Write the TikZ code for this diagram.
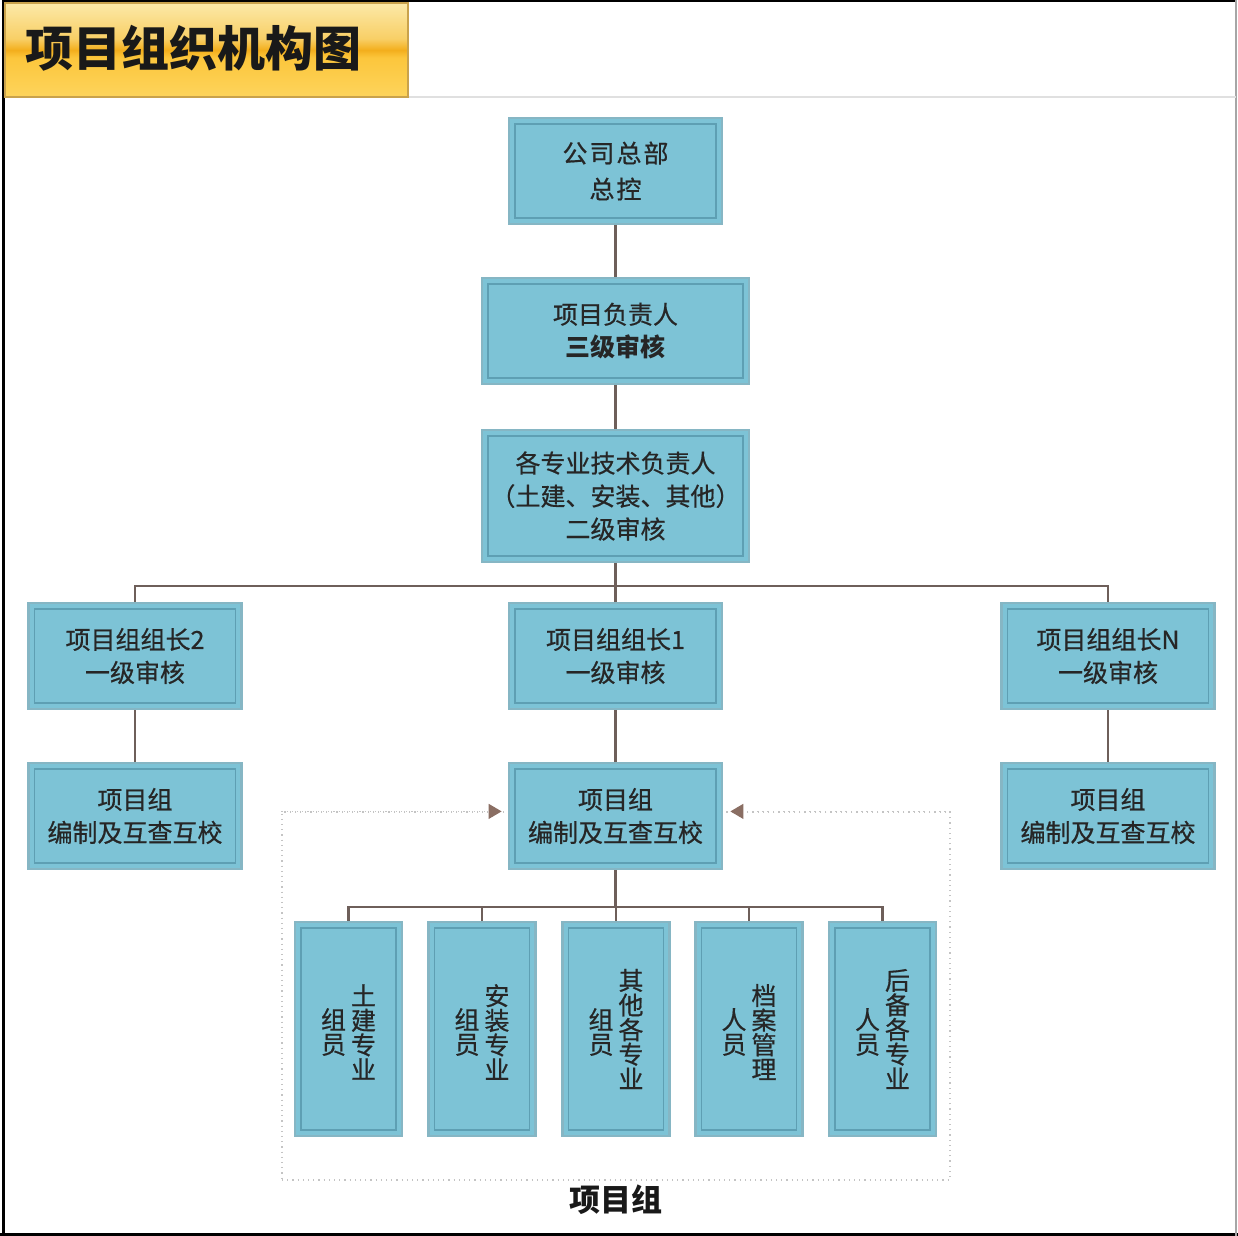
\documentclass[tikz,border=0pt]{standalone}
\usepackage{fontspec}
\newfontfamily\cjk{Noto Sans CJK SC}
\newfontfamily\cjkm{Noto Sans CJK SC}[FakeBold=0.6]
\usetikzlibrary{arrows.meta,calc}
\definecolor{boxfill}{HTML}{7DC3D6}
\definecolor{boxedge}{HTML}{86B6C4}
\definecolor{boxinner}{HTML}{5E9FB3}
\definecolor{connc}{HTML}{6E5F5A}
\definecolor{arrowc}{HTML}{8A6E63}
\definecolor{dotc}{HTML}{C4C4C4}
\definecolor{tA}{HTML}{FDD45C}
\definecolor{tB}{HTML}{FCC63C}
\definecolor{tC}{HTML}{F3AE1C}
\definecolor{tD}{HTML}{F8CF66}
\definecolor{tE}{HTML}{FCE9A8}
\definecolor{titleedge}{HTML}{C9A24C}
\pgfdeclareverticalshading{titleshade}{100bp}{color(0bp)=(tA); color(25bp)=(tA); color(46bp)=(tB); color(50bp)=(tC); color(56bp)=(tD); color(75bp)=(tE); color(100bp)=(tE)}
\tikzset{
  orgbox/.style={rectangle, fill=boxfill, draw=boxedge, line width=1.4pt,
    align=center, inner sep=0pt, text=black!85,
    font=\cjkm\fontsize{12.5}{16.5}\selectfont,
    path picture={\draw[boxinner, line width=0.6pt]
      ([shift={(3pt,-3pt)}]path picture bounding box.north west) rectangle
      ([shift={(-3pt,3pt)}]path picture bounding box.south east);}},
  stdbox/.style={orgbox, minimum width=106.5pt, minimum height=53pt},
  membox/.style={orgbox, minimum width=53.5pt, minimum height=107pt},
  vtext/.style={align=center, inner sep=0pt, text=black!85,
    font=\cjkm\fontsize{12.5}{12.3}\selectfont},
  conn/.style={draw=connc, line width=1.2pt},
  dotline/.style={draw=dotc, line width=0.6pt, dotted},
  tip/.style={-{Triangle[length=6.5pt, width=7.5pt, color=arrowc, fill=arrowc]}}
}
\begin{document}
\begin{tikzpicture}[x=0.5pt, y=-0.5pt]
\useasboundingbox (0,0) rectangle (1238,1236);
\fill[white] (0,0) rectangle (1238,1236);
% frame
\draw[black, line width=1.5pt] (2,1) -- (1236,1) ;
\draw[black, line width=1.5pt] (3,0) -- (3,1236);
\draw[black, line width=1.5pt] (0,1234) -- (1238,1234);
\draw[black!35, line width=1pt] (1236,0) -- (1236,1236);
% header
\draw[black!12, line width=1pt] (408,97) -- (1236,97);
\node[rectangle, shading=titleshade, draw=titleedge, line width=0.8pt,
  minimum width=201.5pt, minimum height=47pt, inner sep=0pt] (title) at (206.5,50) {};
\node[anchor=west, inner sep=0pt, font=\cjk\bfseries\fontsize{24}{28}\selectfont, text=black!90] (titletext) at (25,48) {项目组织机构图};

% dotted group frame
\node[rectangle, dotline, minimum width=334pt, minimum height=184pt, inner sep=0pt] (grp) at (616,996) {};

% nodes
\node[stdbox, font=\cjkm\fontsize{12.5}{18}\selectfont] (hq) at (615.5,171) {公\kern1pt 司\kern1pt 总\kern1pt 部\\总\kern1pt 控};
\node[stdbox, minimum width=133.5pt] (pm) at (615.5,331) {项目负责人\\{\cjk\bfseries 三级审核}};
\node[stdbox, minimum width=133.5pt, minimum height=66pt] (tech) at (615.5,496) {各专业技术负责人\\（土建、安装、其他）\\二级审核};
\node[stdbox] (L2) at (135,656) {项目组组长2\\一级审核};
\node[stdbox] (L1) at (615.5,656) {项目组组长1\\一级审核};
\node[stdbox] (LN) at (1108,656) {项目组组长N\\一级审核};
\node[stdbox] (G2) at (135,816) {项目组\\编制及互查互校};
\node[stdbox] (G1) at (615.5,816) {项目组\\编制及互查互校};
\node[stdbox] (GN) at (1108,816) {项目组\\编制及互查互校};

\node[membox] (m1) at (348.5,1029) {};
\node[membox] (m2) at (482,1029) {};
\node[membox] (m3) at (616,1029) {};
\node[membox] (m4) at (749,1029) {};
\node[membox] (m5) at (882.5,1029) {};

\node[vtext] (m1r) at ($(m1.center)+(15,3)$) {土\\建\\专\\业};
\node[vtext] (m1l) at ($(m1.center)+(-15,3)$) {组\\员};
\node[vtext] (m2r) at ($(m2.center)+(15,3)$) {安\\装\\专\\业};
\node[vtext] (m2l) at ($(m2.center)+(-15,3)$) {组\\员};
\node[vtext] (m3r) at ($(m3.center)+(15,0)$) {其\\他\\各\\专\\业};
\node[vtext] (m3l) at ($(m3.center)+(-15,3)$) {组\\员};
\node[vtext] (m4r) at ($(m4.center)+(15,3)$) {档\\案\\管\\理};
\node[vtext] (m4l) at ($(m4.center)+(-15,3)$) {人\\员};
\node[vtext] (m5r) at ($(m5.center)+(15,0)$) {后\\备\\各\\专\\业};
\node[vtext] (m5l) at ($(m5.center)+(-15,3)$) {人\\员};

\node[inner sep=0pt, font=\cjk\bfseries\fontsize{15.5}{18}\selectfont, text=black!90] (grplabel) at (616,1200) {项目组};

% connectors
\coordinate (bar1) at (0,586);
\coordinate (bar2) at (0,907);
\draw[conn] (hq.south) -- (pm.north);
\draw[conn] (pm.south) -- (tech.north);
\draw[conn] (tech.south) -- (L1.north);
\draw[conn] (L2.north) -- (L2.north |- bar1) -- (LN.north |- bar1) -- (LN.north);
\draw[conn] (L2.south) -- (G2.north);
\draw[conn] (L1.south) -- (G1.north);
\draw[conn] (LN.south) -- (GN.north);
\draw[conn] (G1.south) -- (G1.south |- bar2);
\draw[conn] (m1.north) -- (m1.north |- bar2) -- (m5.north |- bar2) -- (m5.north);
\draw[conn] (m2.north) -- (m2.north |- bar2);
\draw[conn] (m3.north) -- (m3.north |- bar2);
\draw[conn] (m4.north) -- (m4.north |- bar2);

% feedback arrows
\draw[dotline, tip] (grp.north west) -- ($(G1.west |- grp.north)+(-6,0)$);
\draw[dotline, tip] (grp.north east) -- ($(G1.east |- grp.north)+(7,0)$);
\end{tikzpicture}
\end{document}
